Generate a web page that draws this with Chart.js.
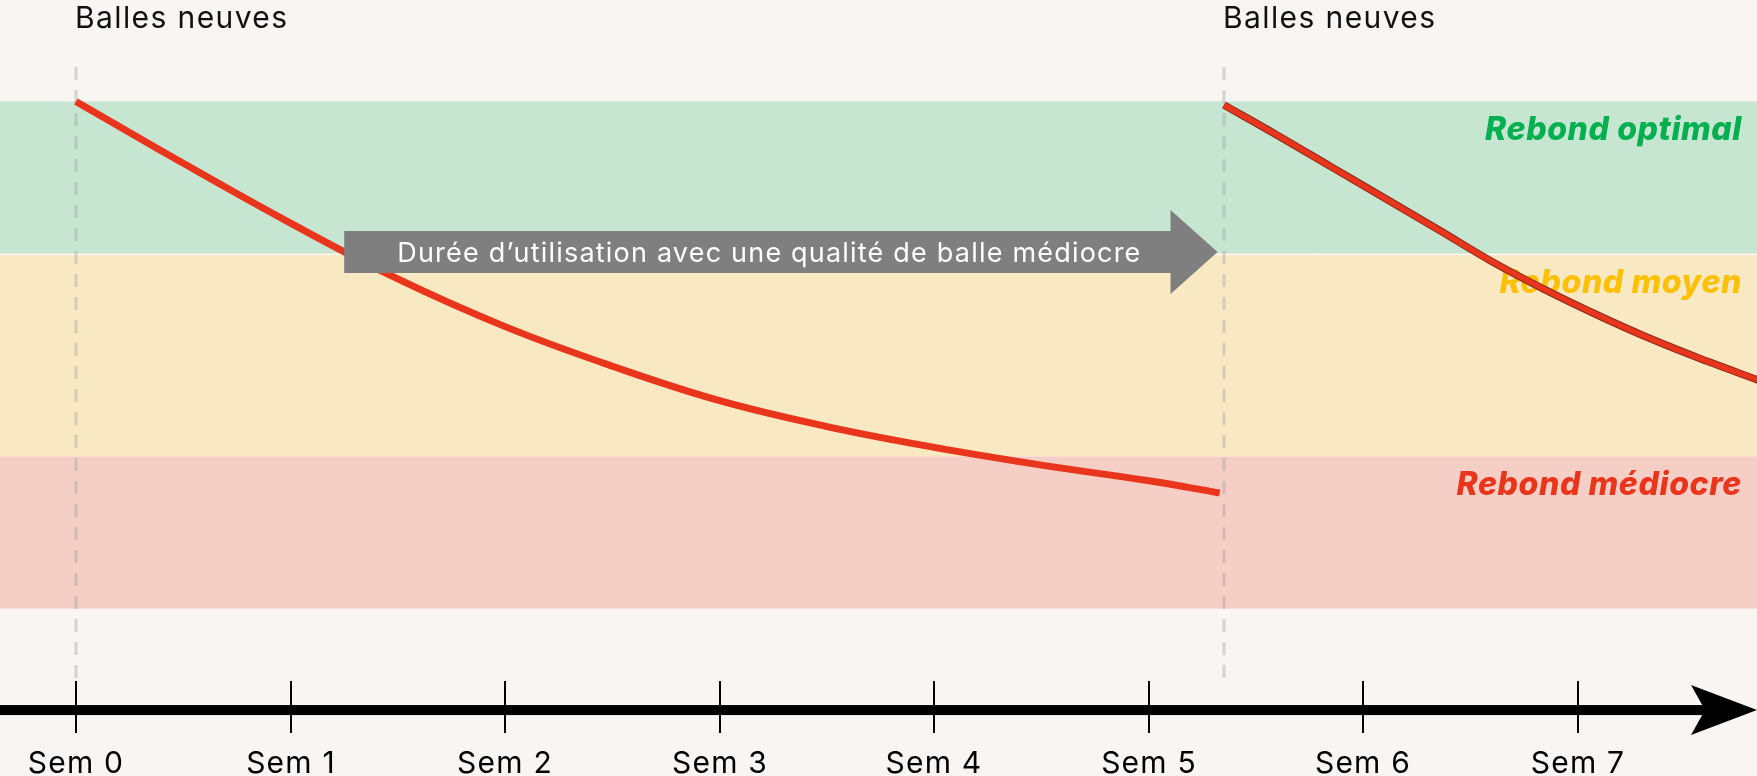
<!DOCTYPE html>
<html lang="fr">
<head>
<meta charset="utf-8">
<title>Rebond des balles</title>
<script src="https://cdn.jsdelivr.net/npm/chart.js@4.4.1/dist/chart.umd.min.js"></script>
<style>
  html, body { margin: 0; padding: 0; background: #f8f5f2; }
  #wrap { width: 1757px; height: 776px; position: relative; }
</style>
</head>
<body>
<div id="wrap"><canvas id="chart"></canvas></div>
<script>
// x = weeks, y = rebound index (100 = new ball)
const weekTicks = [0, 1, 2, 3, 4, 5, 6, 7];
const weekLabels = ["Sem 0", "Sem 1", "Sem 2", "Sem 3", "Sem 4", "Sem 5", "Sem 6", "Sem 7"];

const firstX = [0, 0.5, 1, 1.5, 2, 2.5, 3, 3.5, 4, 4.5, 5, 5.33];
const firstY = [100, 87.8, 76.0, 65.0, 55.6, 47.8, 41.0, 35.9, 31.8, 28.3, 25.2, 22.8];

const secondX = [5.35, 5.6, 5.85, 6.1, 6.35, 6.6, 6.85, 7.1, 7.35, 7.6, 7.85];
const secondY = [99.3, 93.3, 87.1, 80.9, 74.7, 68.4, 62.8, 57.7, 53.0, 48.8, 44.9];

const newBallsAt = [0, 5.35];
const newBallsLabel = "Balles neuves";

const zoneNames = ["Rebond optimal", "Rebond moyen", "Rebond médiocre"];
const zoneFrom = [70, 30, 0];
const zoneTo = [100, 70, 30];

const usageLabel = "Durée d’utilisation avec une qualité de balle médiocre";
const usageFrom = 1.25;
const usageTo = 5.32;

const FONT = "Inter, 'Noto Sans', sans-serif";
const zoneFill = ["#c6e6d2", "#f9e9c3", "#f5cec5"];
const zoneInk = ["#00b050", "#ffc000", "#e8351b"];

const toPts = (xs, ys) => xs.map((v, i) => ({ x: v, y: ys[i] }));

const decor = {
  id: "decor",
  beforeDatasetsDraw(chart) {
    const { ctx, chartArea: a, scales: { x, y } } = chart;
    ctx.save();
    ctx.fillStyle = "#f8f5f2";
    ctx.fillRect(0, 0, chart.width, chart.height);

    // bands
    zoneNames.forEach((name, i) => {
      const top = y.getPixelForValue(zoneTo[i]);
      const bot = y.getPixelForValue(zoneFrom[i]);
      ctx.fillStyle = zoneFill[i];
      ctx.fillRect(a.left, top, a.right - a.left, bot - top);
    });
    const sep = Math.round(y.getPixelForValue(zoneTo[1])) + 0.5;
    ctx.strokeStyle = "rgba(255,255,255,0.9)";
    ctx.lineWidth = 1;
    ctx.beginPath();
    ctx.moveTo(a.left, sep);
    ctx.lineTo(a.right, sep);
    ctx.stroke();

    // band labels
    ctx.font = "italic 800 32px " + FONT;
    ctx.letterSpacing = "0.6px";
    ctx.textAlign = "right";
    ctx.textBaseline = "alphabetic";
    zoneNames.forEach((name, i) => {
      ctx.fillStyle = zoneInk[i];
      ctx.fillText(name, a.right - 15, y.getPixelForValue(zoneTo[i]) + 39);
    });

    // new balls markers
    ctx.setLineDash([13, 10]);
    ctx.lineWidth = 3;
    ctx.strokeStyle = "rgba(150,150,150,0.35)";
    newBallsAt.forEach(w => {
      const px = x.getPixelForValue(w);
      ctx.beginPath();
      ctx.moveTo(px, y.getPixelForValue(106.8));
      ctx.lineTo(px, y.getPixelForValue(-15.5));
      ctx.stroke();
    });
    ctx.setLineDash([]);
    ctx.fillStyle = "#111";
    ctx.font = "400 30px " + FONT;
    ctx.letterSpacing = "1.4px";
    ctx.textAlign = "left";
    newBallsAt.forEach(w => {
      ctx.fillText(newBallsLabel, x.getPixelForValue(w) - 1, 28);
    });
    ctx.restore();
  },
  afterDatasetsDraw(chart) {
    const { ctx, chartArea: a, scales: { x, y } } = chart;
    ctx.save();

    // usage arrow
    const x0 = x.getPixelForValue(usageFrom);
    const xt = x.getPixelForValue(usageTo);
    const xb = xt - 47;
    const cy = y.getPixelForValue(70.3);
    ctx.fillStyle = "#7f7f7f";
    ctx.beginPath();
    ctx.moveTo(x0, cy - 21);
    ctx.lineTo(xb, cy - 21);
    ctx.lineTo(xb, cy - 42);
    ctx.lineTo(xt, cy);
    ctx.lineTo(xb, cy + 42);
    ctx.lineTo(xb, cy + 21);
    ctx.lineTo(x0, cy + 21);
    ctx.closePath();
    ctx.fill();
    ctx.fillStyle = "#ffffff";
    ctx.font = "400 27px " + FONT;
    ctx.letterSpacing = "1.2px";
    ctx.textAlign = "center";
    ctx.textBaseline = "alphabetic";
    ctx.fillText(usageLabel, (x0 + xb) / 2 + 12, cy + 10);

    // time axis
    const ay = y.getPixelForValue(-20);
    ctx.fillStyle = "#000";
    ctx.fillRect(a.left, ay - 5, a.right - a.left - 40, 10);
    ctx.beginPath();
    ctx.moveTo(a.right, ay);
    ctx.lineTo(a.right - 66, ay - 25);
    ctx.lineTo(a.right - 52, ay);
    ctx.lineTo(a.right - 66, ay + 25);
    ctx.closePath();
    ctx.fill();
    ctx.lineWidth = 2;
    ctx.strokeStyle = "#000";
    ctx.font = "400 30px " + FONT;
    ctx.letterSpacing = "1.2px";
    ctx.textAlign = "center";
    weekTicks.forEach((w, i) => {
      const px = Math.round(x.getPixelForValue(w));
      ctx.beginPath();
      ctx.moveTo(px, ay - 29);
      ctx.lineTo(px, ay + 23);
      ctx.stroke();
      ctx.fillText(weekLabels[i], px, ay + 63);
    });
    ctx.restore();
  }
};

new Chart(document.getElementById("chart"), {
  type: "line",
  data: {
    datasets: [
      {
        label: "Premières balles",
        data: toPts(firstX, firstY),
        borderColor: "#e8351b",
        borderWidth: 7,
        pointRadius: 0,
        tension: 0.4
      },
      {
        label: "Nouvelles balles",
        data: toPts(secondX, secondY),
        borderColor: "#e8351b",
        borderWidth: 5.5,
        pointRadius: 0,
        tension: 0.4
      },
      {
        label: "Nouvelles balles (contour)",
        data: toPts(secondX, secondY),
        borderColor: "#8a2c1c",
        borderWidth: 7.5,
        pointRadius: 0,
        tension: 0.4
      }
    ]
  },
  options: {
    responsive: true,
    maintainAspectRatio: false,
    animation: false,
    layout: { padding: 0 },
    scales: {
      x: { type: "linear", min: -0.354, max: 7.834, display: false },
      y: { min: -33, max: 120, display: false }
    },
    plugins: {
      legend: { display: false },
      tooltip: { enabled: false }
    }
  },
  plugins: [decor]
});
</script>
</body>
</html>
